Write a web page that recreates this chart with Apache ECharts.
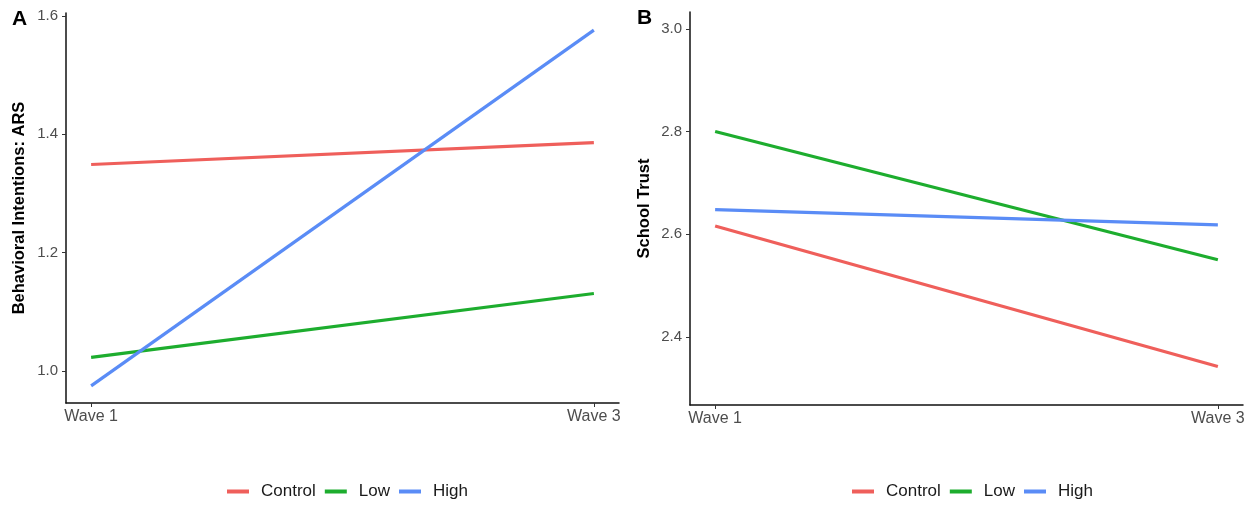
<!DOCTYPE html>
<html>
<head>
<meta charset="utf-8">
<script src="https://cdn.jsdelivr.net/npm/echarts@6/dist/echarts.min.js"></script>
<style>
html,body{margin:0;padding:0;background:#fff;}
#chart{width:1260px;height:505px;}
</style>
</head>
<body>
<div id="chart"></div>
<script>
// ---- data ----
var waveLabels = ['Wave 1', 'Wave 3'];
var waveX = [1, 3];
var groups = ['Control', 'Low', 'High'];
// Panel A: Behavioral Intentions: ARS
var aControl = [1.349, 1.386];
var aLow = [1.023, 1.131];
var aHigh = [0.975, 1.576];
// Panel B: School Trust
var bControl = [2.616, 2.342];
var bLow = [2.800, 2.550];
var bHigh = [2.648, 2.618];
// tick labels
var ticksA = [1.0, 1.2, 1.4, 1.6];
var ticksB = [2.4, 2.6, 2.8, 3.0];

var colors = {Control: '#EF5F5B', Low: '#1DAD2E', High: '#5A8CF6'};
var FONT = '"Liberation Sans", Arial, Helvetica, sans-serif';

function pts(vals) { return vals.map(function (v, i) { return [waveX[i], v]; }); }

function xAxis(gi) {
  return {
    type: 'value', gridIndex: gi, min: 0.9, max: 3.1,
    axisLine: {show: true, lineStyle: {color: '#111', width: 1.5}},
    axisTick: {show: true, length: 4, customValues: waveX, lineStyle: {color: '#333', width: 1}},
    axisLabel: {
      customValues: waveX, margin: 6, color: '#4D4D4D', fontSize: 16, fontFamily: FONT,
      formatter: function (v) { var i = waveX.indexOf(v); return i >= 0 ? waveLabels[i] : ''; }
    },
    splitLine: {show: false}
  };
}
function yAxis(gi, min, max, ticks, name, gap) {
  return {
    type: 'value', gridIndex: gi, min: min, max: max,
    name: name, nameLocation: 'middle', nameGap: gap, nameRotate: 90,
    nameTextStyle: {color: '#000', fontSize: 16.5, fontWeight: 'bold', fontFamily: FONT},
    axisLine: {show: true, lineStyle: {color: '#111', width: 1.5}},
    axisTick: {show: true, length: 4, customValues: ticks, lineStyle: {color: '#333', width: 1}},
    axisLabel: {
      customValues: ticks, margin: 8, color: '#4D4D4D', fontSize: 15, fontFamily: FONT,
      formatter: function (v) { return v.toFixed(1); }
    },
    splitLine: {show: false}
  };
}
function lineSeries(name, vals, idx) {
  return {
    name: name, type: 'line', xAxisIndex: idx, yAxisIndex: idx,
    data: pts(vals), showSymbol: false, symbol: 'none', silent: true,
    lineStyle: {color: colors[name], width: 3.2},
    itemStyle: {color: colors[name]}
  };
}
function legend(left) {
  return {
    left: left, top: 483, padding: 0, itemGap: 9, itemWidth: 22, itemHeight: 4,
    icon: 'rect', selectedMode: false,
    textStyle: {color: '#1a1a1a', fontSize: 17, fontFamily: FONT, padding: [0, 0, 0, 7]},
    data: groups
  };
}

var chart = echarts.init(document.getElementById('chart'), null, {renderer: 'canvas'});
chart.setOption({
  backgroundColor: '#ffffff',
  animation: false,
  color: [colors.Control, colors.Low, colors.High],
  grid: [
    {left: 66, top: 13, width: 553, height: 390},
    {left: 690, top: 12, width: 553, height: 393}
  ],
  xAxis: [xAxis(0), xAxis(1)],
  yAxis: [
    yAxis(0, 0.946, 1.605, ticksA, 'Behavioral Intentions: ARS', 38),
    yAxis(1, 2.267, 3.033, ticksB, 'School Trust', 37)
  ],
  legend: [legend(227), legend(852)],
  graphic: [
    {type: 'text', left: 12, top: 9, style: {text: 'A', font: 'bold 21px ' + FONT, fill: '#000'}},
    {type: 'text', left: 637, top: 8, style: {text: 'B', font: 'bold 21px ' + FONT, fill: '#000'}}
  ],
  series: [
    lineSeries('Control', aControl, 0),
    lineSeries('Low', aLow, 0),
    lineSeries('High', aHigh, 0),
    lineSeries('Control', bControl, 1),
    lineSeries('Low', bLow, 1),
    lineSeries('High', bHigh, 1)
  ]
});
</script>
</body>
</html>
